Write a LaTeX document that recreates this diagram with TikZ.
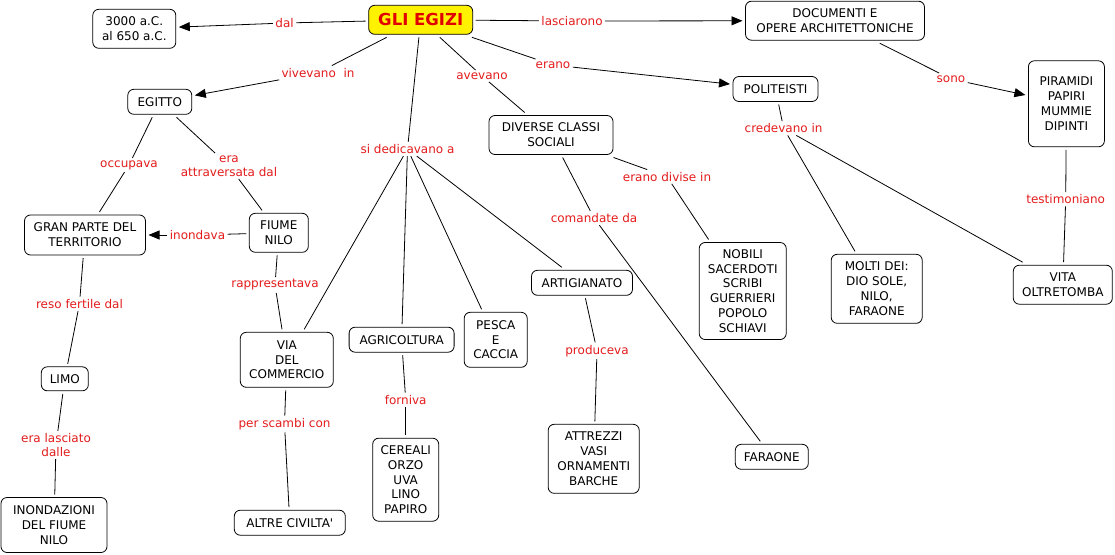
\documentclass[tikz,border=0pt]{standalone}
\usepackage{fontspec}
\setmainfont{DejaVu Sans}[Ligatures=TeXOff]
\usetikzlibrary{arrows.meta}
\definecolor{labred}{RGB}{228,28,28}
\definecolor{titred}{RGB}{225,0,0}
\tikzset{
  box/.style={draw=black, line width=0.8pt, rounded corners=6pt, align=center,
    inner sep=0pt, outer sep=3pt, fill=white, font=\fontsize{12}{14.8}\selectfont},
  lab/.style={text=labred, align=center, inner sep=2.5pt, outer sep=0pt,
    font=\fontsize{12}{14}\selectfont},
  conn/.style={draw=black, line width=0.8pt},
  arr/.style={conn, -{Triangle[length=11pt,width=9pt]}},
}
\begin{document}
\begin{tikzpicture}[x=1pt,y=-1pt]
\useasboundingbox[fill=white] (0,0) rectangle (1115,554);
% concepts
\node[box, fill=yellow, text=titred, minimum width=104pt, minimum height=29pt,
  font=\fontsize{16.5}{18}\selectfont\bfseries] (egizi) at (420.7,19.8) {GLI EGIZI};
\node[box, minimum width=83pt, minimum height=39pt] (date) at (134.3,28.8) {3000 a.C.\\al 650 a.C.};
\node[box, minimum width=179pt, minimum height=39pt] (docs) at (835,20.7) {DOCUMENTI E\\OPERE ARCHITETTONICHE};
\node[box, minimum width=64pt, minimum height=25pt] (egitto) at (159.8,101.8) {EGITTO};
\node[box, minimum width=85pt, minimum height=25pt] (polit) at (775.5,89) {POLITEISTI};
\node[box, minimum width=76pt, minimum height=86pt] (piram) at (1066.4,103.8) {PIRAMIDI\\PAPIRI\\MUMMIE\\DIPINTI};
\node[box, minimum width=124pt, minimum height=39pt] (classi) at (551,135) {DIVERSE CLASSI\\SOCIALI};
\node[box, minimum width=121pt, minimum height=40pt] (terr) at (85,235) {GRAN PARTE DEL\\TERRITORIO};
\node[box, minimum width=59pt, minimum height=39pt] (nilo) at (278.8,232.8) {FIUME\\NILO};
\node[box, minimum width=101pt, minimum height=25pt] (artig) at (582,282.8) {ARTIGIANATO};
\node[box, minimum width=87pt, minimum height=97pt] (nobili) at (742.7,291) {NOBILI\\SACERDOTI\\SCRIBI\\GUERRIERI\\POPOLO\\SCHIAVI};
\node[box, minimum width=91pt, minimum height=69pt] (dei) at (876.7,288.8) {MOLTI DEI:\\DIO SOLE,\\NILO,\\FARAONE};
\node[box, minimum width=99pt, minimum height=39pt] (vita) at (1062.8,284.7) {VITA\\OLTRETOMBA};
\node[box, minimum width=93pt, minimum height=55pt] (via) at (286.8,359.8) {VIA\\DEL\\COMMERCIO};
\node[box, minimum width=105pt, minimum height=25pt] (agri) at (401.6,339.7) {AGRICOLTURA};
\node[box, minimum width=63pt, minimum height=55pt] (pesca) at (495.7,339.8) {PESCA\\E\\CACCIA};
\node[box, minimum width=47pt, minimum height=24pt] (limo) at (64.8,378.8) {LIMO};
\node[box, minimum width=66pt, minimum height=83pt] (cereali) at (405.7,479.7) {CEREALI\\ORZO\\UVA\\LINO\\PAPIRO};
\node[box, minimum width=91pt, minimum height=69pt] (attrezzi) at (593.7,458.8) {ATTREZZI\\VASI\\ORNAMENTI\\BARCHE};
\node[box, minimum width=73pt, minimum height=25pt] (faraone) at (771.8,456.8) {FARAONE};
\node[box, minimum width=106pt, minimum height=55pt] (inond) at (54,525) {INONDAZIONI\\DEL FIUME\\NILO};
\node[box, minimum width=111pt, minimum height=25pt] (altre) at (289.8,522.7) {ALTRE CIVILTA'};
% linking phrases
\node[lab] (l-dal) at (284.6,23) {dal};
\node[lab] (l-lasc) at (572,21) {lasciarono};
\node[lab] (l-viv) at (318,72.7) {vivevano\ \ in};
\node[lab] (l-avev) at (482,76) {avevano};
\node[lab] (l-erano) at (553,65) {erano};
\node[lab] (l-dedic) at (407.5,149) {si dedicavano a};
\node[lab] (l-occ) at (129,165) {occupava};
\node[lab] (l-attr) at (229,166) {era\\attraversata dal};
\node[lab] (l-inond) at (197.5,235) {inondava};
\node[lab] (l-sono) at (951,79) {sono};
\node[lab] (l-cred) at (783.6,128.3) {credevano in};
\node[lab] (l-div) at (667,176.7) {erano divise in};
\node[lab] (l-com) at (594,218) {comandate da};
\node[lab] (l-test) at (1065.7,199.3) {testimoniano};
\node[lab] (l-rapp) at (275,285) {rappresentava};
\node[lab] (l-reso) at (79.5,303.7) {reso fertile dal};
\node[lab] (l-prod) at (597,350.7) {produceva};
\node[lab] (l-forn) at (405.7,399.7) {forniva};
\node[lab] (l-scamb) at (284.5,424) {per scambi con};
\node[lab] (l-lasci) at (56,445) {era lasciato\\dalle};
% connections
\draw[conn] (egizi) -- (l-dal);   \draw[arr] (l-dal) -- (date);
\draw[conn] (egizi) -- (l-lasc);  \draw[arr] (l-lasc) -- (docs);
\draw[conn] (egizi) -- (l-viv);   \draw[arr] (l-viv) -- (egitto);
\draw[conn] (egizi) -- (l-avev);  \draw[conn] (l-avev) -- (classi);
\draw[conn] (egizi) -- (l-erano); \draw[arr] (l-erano) -- (polit);
\draw[conn] (egizi) -- (l-dedic);
\draw[conn] (l-dedic) -- (via);
\draw[conn] (l-dedic) -- (agri);
\draw[conn] (l-dedic) -- (pesca);
\draw[conn] (l-dedic) -- (artig);
\draw[conn] (egitto) -- (l-occ);  \draw[conn] (l-occ) -- (terr);
\draw[conn] (egitto) -- (l-attr); \draw[conn] (l-attr) -- (nilo);
\draw[conn] (nilo) -- (l-inond);  \draw[arr] (l-inond) -- (terr);
\draw[conn] (nilo) -- (l-rapp);   \draw[conn] (l-rapp) -- (via);
\draw[conn] (terr) -- (l-reso);   \draw[conn] (l-reso) -- (limo);
\draw[conn] (limo) -- (l-lasci);  \draw[conn] (l-lasci) -- (inond);
\draw[conn] (via) -- (l-scamb);   \draw[conn] (l-scamb) -- (altre);
\draw[conn] (agri) -- (l-forn);   \draw[conn] (l-forn) -- (cereali);
\draw[conn] (artig) -- (l-prod);  \draw[conn] (l-prod) -- (attrezzi);
\draw[conn] (classi) -- (l-div);  \draw[conn] (l-div) -- (nobili);
\draw[conn] (classi) -- (l-com);  \draw[conn] (l-com) -- (faraone);
\draw[conn] (docs) -- (l-sono);   \draw[arr] (l-sono) -- (piram);
\draw[conn] (polit) -- (l-cred);
\draw[conn] (l-cred) -- (dei);
\draw[conn] (l-cred) -- (vita);
\draw[conn] (piram) -- (l-test);  \draw[conn] (l-test) -- (vita);
\end{tikzpicture}
\end{document}
